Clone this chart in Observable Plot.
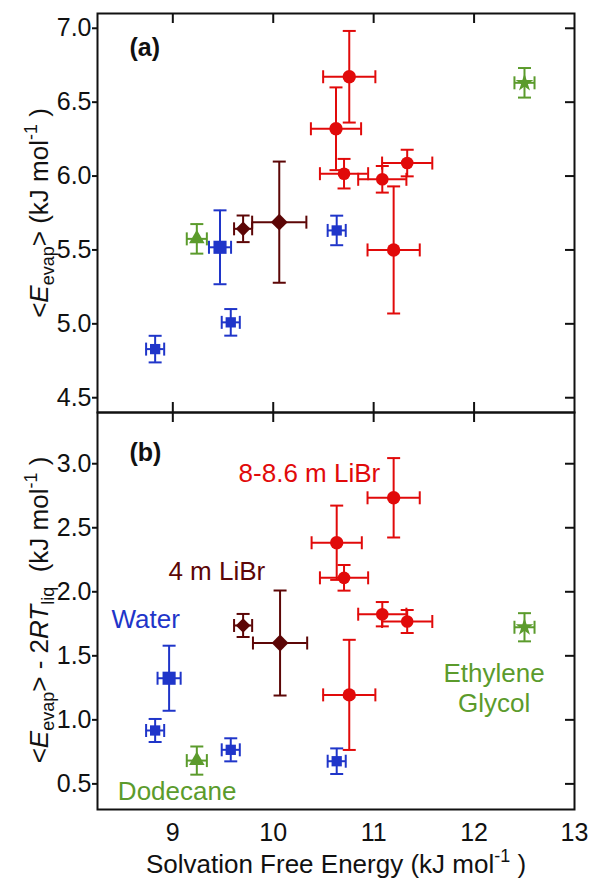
<!DOCTYPE html>
<html><head><meta charset="utf-8">
<script src="https://cdn.jsdelivr.net/npm/d3@7"></script>
<script src="https://cdn.jsdelivr.net/npm/@observablehq/plot@0.6"></script>
<style>
html,body{margin:0;padding:0;background:#fff;}
#chart{width:592px;height:878px;position:relative;overflow:hidden;background:#fff;}
#chart svg{display:block;overflow:visible;}
</style></head><body><div id="chart"></div>
<script>
// ---------- data ----------
const xTicks = [9, 10, 11, 12, 13];
const yTicksA = [4.5, 5.0, 5.5, 6.0, 6.5, 7.0];
const yTicksB = [0.5, 1.0, 1.5, 2.0, 2.5, 3.0];

// Panel (a): <E_evap>
const waterAX = [8.824, 9.47, 9.577, 10.632];
const waterAY = [4.829, 5.518, 5.01, 5.632];
const waterAEx = [0.09, 0.11, 0.09, 0.09];
const waterAEy = [0.09, 0.25, 0.09, 0.10];
const dodecAX = [9.239], dodecAY = [5.575], dodecAEx = [0.10], dodecAEy = [0.10];
const libr4AX = [9.70, 10.06];
const libr4AY = [5.643, 5.688];
const libr4AEx = [0.09, 0.27];
const libr4AEy = [0.09, 0.41];
const libr8AX = [10.757, 10.625, 10.705, 11.086, 11.334, 11.199];
const libr8AY = [6.672, 6.32, 6.016, 5.978, 6.088, 5.50];
const libr8AEx = [0.26, 0.25, 0.24, 0.24, 0.25, 0.26];
const libr8AEy = [0.31, 0.28, 0.10, 0.09, 0.09, 0.43];
const egAX = [12.502], egAY = [6.631], egAEx = [0.10], egAEy = [0.10];

// Panel (b): <E_evap> - 2RT_liq
const waterBX = [8.963, 8.824, 9.577, 10.632];
const waterBY = [1.325, 0.917, 0.766, 0.677];
const waterBEx = [0.115, 0.09, 0.09, 0.09];
const waterBEy = [0.254, 0.09, 0.09, 0.10];
const dodecBX = [9.239], dodecBY = [0.682], dodecBEx = [0.10], dodecBEy = [0.11];
const libr4BX = [9.70, 10.068];
const libr4BY = [1.737, 1.60];
const libr4BEx = [0.09, 0.27];
const libr4BEy = [0.09, 0.41];
const libr8BX = [11.199, 10.632, 10.705, 11.086, 11.334, 10.757];
const libr8BY = [2.734, 2.383, 2.109, 1.825, 1.768, 1.195];
const libr8BEx = [0.26, 0.25, 0.24, 0.24, 0.25, 0.26];
const libr8BEy = [0.31, 0.29, 0.10, 0.095, 0.09, 0.43];
const egBX = [12.502], egBY = [1.723], egBEx = [0.10], egBEy = [0.11];

// annotation labels (data coordinates)
const panelLabels = ["(a)", "(b)"];
const panelLabelX = [8.568, 8.568];
const panelLabelY = [6.866, 3.08];
const seriesLabels = ["8-8.6 m LiBr", "4 m LiBr", "Water", "Dodecane", "Ethylene\nGlycol"];
const seriesLabelSeries = ["libr8", "libr4", "water", "dodec", "eg"];
const seriesLabelX = [10.36, 9.438, 8.729, 9.043, 12.199];
const seriesLabelY = [2.932, 2.166, 1.791, 0.448, 1.255];

// ---------- styles ----------
const FONT = "'Liberation Sans', Arial, Helvetica, sans-serif";
const INK = "#111";
const color = {water: "#1f35c9", dodec: "#5b9b2c", libr4: "#5c0606", libr8: "#e10a0a", eg: "#5b9b2c"};
const marker = {
  water: {symbol: "square", big: 7.4, small: 5.8},
  dodec: {symbol: "triangle", big: 5.8, small: 5.8},
  libr4: {symbol: "diamond2", big: 7.6, small: 6.6},
  libr8: {symbol: "circle", big: 6.7, small: 6.3},
  eg: {symbol: "star", big: 5.6, small: 5.6}
};
const capH = {draw(ctx, size) { const r = Math.sqrt(size / Math.PI); ctx.moveTo(-r, 0); ctx.lineTo(r, 0); }};
const capV = {draw(ctx, size) { const r = Math.sqrt(size / Math.PI); ctx.moveTo(0, -r); ctx.lineTo(0, r); }};

function rows(series, xs, ys, exs, eys) {
  return xs.map((x, i) => ({series, x, y: ys[i], ex: exs[i], ey: eys[i]}));
}
const dataA = [
  ...rows("water", waterAX, waterAY, waterAEx, waterAEy),
  ...rows("dodec", dodecAX, dodecAY, dodecAEx, dodecAEy),
  ...rows("libr4", libr4AX, libr4AY, libr4AEx, libr4AEy),
  ...rows("libr8", libr8AX, libr8AY, libr8AEx, libr8AEy),
  ...rows("eg", egAX, egAY, egAEx, egAEy)
];
const dataB = [
  ...rows("water", waterBX, waterBY, waterBEx, waterBEy),
  ...rows("dodec", dodecBX, dodecBY, dodecBEx, dodecBEy),
  ...rows("libr4", libr4BX, libr4BY, libr4BEx, libr4BEy),
  ...rows("libr8", libr8BX, libr8BY, libr8BEx, libr8BEy),
  ...rows("eg", egBX, egBY, egBEx, egBEy)
];

function pointMarks(data) {
  const st = d => color[d.series];
  const marks = [
    Plot.ruleX(data, {x: "x", y1: d => d.y - d.ey, y2: d => d.y + d.ey, stroke: st, strokeWidth: 2}),
    Plot.ruleY(data, {y: "y", x1: d => d.x - d.ex, x2: d => d.x + d.ex, stroke: st, strokeWidth: 2}),
    Plot.dot(data, {x: "x", y: d => d.y + d.ey, symbol: capH, r: 6.5, stroke: st, strokeWidth: 2, fill: "none"}),
    Plot.dot(data, {x: "x", y: d => d.y - d.ey, symbol: capH, r: 6.5, stroke: st, strokeWidth: 2, fill: "none"}),
    Plot.dot(data, {x: d => d.x + d.ex, y: "y", symbol: capV, r: 6.5, stroke: st, strokeWidth: 2, fill: "none"}),
    Plot.dot(data, {x: d => d.x - d.ex, y: "y", symbol: capV, r: 6.5, stroke: st, strokeWidth: 2, fill: "none"})
  ];
  for (const s of Object.keys(marker)) {
    const m = marker[s];
    marks.push(Plot.dot(data, {filter: d => d.series === s && d.ey > 0.2, x: "x", y: "y", symbol: m.symbol, r: m.big, fill: color[s], stroke: "none"}));
    marks.push(Plot.dot(data, {filter: d => d.series === s && d.ey <= 0.2, x: "x", y: "y", symbol: m.symbol, r: m.small, fill: color[s], stroke: "none"}));
  }
  return marks;
}

const W = 592, ML = 97, MR = 18;
const innerW = W - ML - MR;
const HA = 412, MTA = 13, innerHA = HA - MTA;
const HB = 466, MBB = 69, innerHB = HB - MBB;
const xDomain = [8.25, 13];
const tickStyle = {stroke: INK, strokeWidth: 2};

const plotA = Plot.plot({
  width: W, height: HA,
  marginTop: MTA, marginBottom: 0, marginLeft: ML, marginRight: MR,
  style: {fontFamily: FONT, fontSize: "25px", color: INK, background: "transparent", overflow: "visible"},
  x: {domain: xDomain, axis: null},
  y: {domain: [4.4, 7.1]},
  marks: [
    Plot.axisY({ticks: yTicksA, anchor: "left", tickSize: 5, tickPadding: 1, fontSize: 25, tickFormat: d3.format(".1f"), label: null, strokeWidth: 2}),
    Plot.ruleX(xTicks.slice(0, 4), {x: d => d, insetBottom: innerHA - 10, ...tickStyle}),
    Plot.ruleX(xTicks.slice(0, 4), {x: d => d, insetTop: innerHA - 10, ...tickStyle}),
    Plot.ruleY(yTicksA, {y: d => d, insetLeft: innerW - 9, ...tickStyle}),
    ...pointMarks(dataA),
    Plot.text([panelLabels[0]], {x: () => panelLabelX[0], y: () => panelLabelY[0], text: d => d, textAnchor: "start", lineAnchor: "middle", fontWeight: "bold", fontSize: 25, fill: INK}),
    Plot.frame({stroke: INK, strokeWidth: 2})
  ]
});

const annot = seriesLabels.map((t, i) => ({t, s: seriesLabelSeries[i], x: seriesLabelX[i], y: seriesLabelY[i]}));

const plotB = Plot.plot({
  width: W, height: HB,
  marginTop: 0, marginBottom: MBB, marginLeft: ML, marginRight: MR,
  style: {fontFamily: FONT, fontSize: "25px", color: INK, background: "transparent", overflow: "visible"},
  x: {domain: xDomain},
  y: {domain: [0.3, 3.4]},
  marks: [
    Plot.axisY({ticks: yTicksB, anchor: "left", tickSize: 5, tickPadding: 1, fontSize: 25, tickFormat: d3.format(".1f"), label: null, strokeWidth: 2}),
    Plot.axisX({ticks: xTicks, anchor: "bottom", tickSize: 0, tickPadding: 14, fontSize: 25, tickFormat: d3.format("d"), label: null}),
    Plot.ruleX(xTicks.slice(0, 4), {x: d => d, insetBottom: innerHB - 10, ...tickStyle}),
    Plot.ruleY(yTicksB, {y: d => d, insetLeft: innerW - 9, ...tickStyle}),
    ...pointMarks(dataB),
    Plot.text([panelLabels[1]], {x: () => panelLabelX[1], y: () => panelLabelY[1], text: d => d, textAnchor: "start", lineAnchor: "middle", fontWeight: "bold", fontSize: 25, fill: INK}),
    Plot.text(annot, {x: "x", y: "y", text: "t", fill: d => color[d.s], fontSize: 26, textAnchor: "middle", lineAnchor: "middle", lineHeight: 1.16}),
    Plot.frame({stroke: INK, strokeWidth: 2})
  ]
});

function richText(svg, transform, parts, anchor = "middle") {
  const t = d3.select(svg).append("text")
    .attr("transform", transform)
    .attr("text-anchor", anchor)
    .attr("font-family", FONT)
    .attr("font-size", 26)
    .attr("fill", INK);
  for (const p of parts) {
    const s = t.append("tspan").text(p.t);
    if (p.i) s.attr("font-style", "italic");
    if (p.dy) s.attr("dy", p.dy);
    if (p.fs) s.attr("font-size", p.fs);
  }
}
richText(plotA, "translate(48,213) rotate(-90)", [
  {t: "<"}, {t: "E", i: 1}, {t: "evap", fs: 18, dy: 6}, {t: "> (kJ mol", dy: -6},
  {t: "-1", fs: 18, dy: -11}, {t: " )", dy: 11}
]);
richText(plotB, "translate(48,198) rotate(-90)", [
  {t: "<"}, {t: "E", i: 1}, {t: "evap", fs: 18, dy: 6}, {t: "> - 2", dy: -6}, {t: "RT", i: 1},
  {t: "liq", fs: 18, dy: 6}, {t: "  (kJ mol", dy: -6}, {t: "-1", fs: 18, dy: -11}, {t: " )", dy: 11}
]);
richText(plotB, "translate(336,461)", [
  {t: "Solvation Free Energy (kJ mol"}, {t: "-1", fs: 18, dy: -11}, {t: " )", dy: 11}
]);

const chart = document.getElementById("chart");
chart.appendChild(plotA);
chart.appendChild(plotB);
</script></body></html>
